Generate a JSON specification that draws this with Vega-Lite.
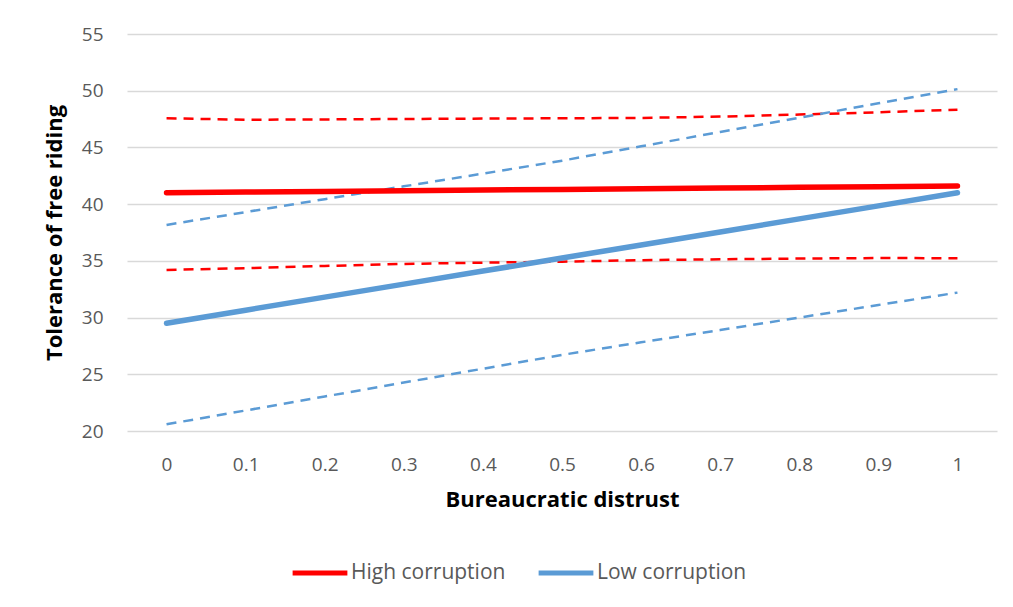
{
  "$schema": "https://vega.github.io/schema/vega-lite/v6.json",
  "autosize": "none",
  "width": 870,
  "height": 397,
  "padding": {"left": 127, "top": 34, "right": 16, "bottom": 176},
  "background": "white",
  "config": {
    "view": {"stroke": null},
    "font": "Open Sans",
    "axis": {"labelFont": "Open Sans", "titleFont": "Open Sans"},
    "legend": {"labelFont": "Open Sans"}
  },
  "data": {
    "values": [
      {"x": "0", "group": "High corruption", "series": "High est", "kind": "estimate", "y": 41.0},
      {"x": "0.1", "group": "High corruption", "series": "High est", "kind": "estimate", "y": 41.06},
      {"x": "0.2", "group": "High corruption", "series": "High est", "kind": "estimate", "y": 41.12},
      {"x": "0.3", "group": "High corruption", "series": "High est", "kind": "estimate", "y": 41.18},
      {"x": "0.4", "group": "High corruption", "series": "High est", "kind": "estimate", "y": 41.24},
      {"x": "0.5", "group": "High corruption", "series": "High est", "kind": "estimate", "y": 41.3},
      {"x": "0.6", "group": "High corruption", "series": "High est", "kind": "estimate", "y": 41.36},
      {"x": "0.7", "group": "High corruption", "series": "High est", "kind": "estimate", "y": 41.42},
      {"x": "0.8", "group": "High corruption", "series": "High est", "kind": "estimate", "y": 41.48},
      {"x": "0.9", "group": "High corruption", "series": "High est", "kind": "estimate", "y": 41.54},
      {"x": "1", "group": "High corruption", "series": "High est", "kind": "estimate", "y": 41.6},

      {"x": "0", "group": "High corruption", "series": "High upper", "kind": "bound", "y": 47.57},
      {"x": "0.1", "group": "High corruption", "series": "High upper", "kind": "bound", "y": 47.44},
      {"x": "0.2", "group": "High corruption", "series": "High upper", "kind": "bound", "y": 47.47},
      {"x": "0.3", "group": "High corruption", "series": "High upper", "kind": "bound", "y": 47.51},
      {"x": "0.4", "group": "High corruption", "series": "High upper", "kind": "bound", "y": 47.54},
      {"x": "0.5", "group": "High corruption", "series": "High upper", "kind": "bound", "y": 47.57},
      {"x": "0.6", "group": "High corruption", "series": "High upper", "kind": "bound", "y": 47.6},
      {"x": "0.7", "group": "High corruption", "series": "High upper", "kind": "bound", "y": 47.72},
      {"x": "0.8", "group": "High corruption", "series": "High upper", "kind": "bound", "y": 47.9},
      {"x": "0.9", "group": "High corruption", "series": "High upper", "kind": "bound", "y": 48.1},
      {"x": "1", "group": "High corruption", "series": "High upper", "kind": "bound", "y": 48.33},

      {"x": "0", "group": "High corruption", "series": "High lower", "kind": "bound", "y": 34.2},
      {"x": "0.1", "group": "High corruption", "series": "High lower", "kind": "bound", "y": 34.35},
      {"x": "0.2", "group": "High corruption", "series": "High lower", "kind": "bound", "y": 34.55},
      {"x": "0.3", "group": "High corruption", "series": "High lower", "kind": "bound", "y": 34.73},
      {"x": "0.4", "group": "High corruption", "series": "High lower", "kind": "bound", "y": 34.84},
      {"x": "0.5", "group": "High corruption", "series": "High lower", "kind": "bound", "y": 34.93},
      {"x": "0.6", "group": "High corruption", "series": "High lower", "kind": "bound", "y": 35.06},
      {"x": "0.7", "group": "High corruption", "series": "High lower", "kind": "bound", "y": 35.14},
      {"x": "0.8", "group": "High corruption", "series": "High lower", "kind": "bound", "y": 35.2},
      {"x": "0.9", "group": "High corruption", "series": "High lower", "kind": "bound", "y": 35.25},
      {"x": "1", "group": "High corruption", "series": "High lower", "kind": "bound", "y": 35.23},

      {"x": "0", "group": "Low corruption", "series": "Low est", "kind": "estimate", "y": 29.5},
      {"x": "0.1", "group": "Low corruption", "series": "Low est", "kind": "estimate", "y": 30.65},
      {"x": "0.2", "group": "Low corruption", "series": "Low est", "kind": "estimate", "y": 31.8},
      {"x": "0.3", "group": "Low corruption", "series": "Low est", "kind": "estimate", "y": 32.95},
      {"x": "0.4", "group": "Low corruption", "series": "Low est", "kind": "estimate", "y": 34.1},
      {"x": "0.5", "group": "Low corruption", "series": "Low est", "kind": "estimate", "y": 35.25},
      {"x": "0.6", "group": "Low corruption", "series": "Low est", "kind": "estimate", "y": 36.4},
      {"x": "0.7", "group": "Low corruption", "series": "Low est", "kind": "estimate", "y": 37.55},
      {"x": "0.8", "group": "Low corruption", "series": "Low est", "kind": "estimate", "y": 38.7},
      {"x": "0.9", "group": "Low corruption", "series": "Low est", "kind": "estimate", "y": 39.85},
      {"x": "1", "group": "Low corruption", "series": "Low est", "kind": "estimate", "y": 41.0},

      {"x": "0", "group": "Low corruption", "series": "Low upper", "kind": "bound", "y": 38.17},
      {"x": "0.1", "group": "Low corruption", "series": "Low upper", "kind": "bound", "y": 39.3},
      {"x": "0.2", "group": "Low corruption", "series": "Low upper", "kind": "bound", "y": 40.44},
      {"x": "0.3", "group": "Low corruption", "series": "Low upper", "kind": "bound", "y": 41.57},
      {"x": "0.4", "group": "Low corruption", "series": "Low upper", "kind": "bound", "y": 42.69},
      {"x": "0.5", "group": "Low corruption", "series": "Low upper", "kind": "bound", "y": 43.83},
      {"x": "0.6", "group": "Low corruption", "series": "Low upper", "kind": "bound", "y": 45.1},
      {"x": "0.7", "group": "Low corruption", "series": "Low upper", "kind": "bound", "y": 46.36},
      {"x": "0.8", "group": "Low corruption", "series": "Low upper", "kind": "bound", "y": 47.62},
      {"x": "0.9", "group": "Low corruption", "series": "Low upper", "kind": "bound", "y": 48.89},
      {"x": "1", "group": "Low corruption", "series": "Low upper", "kind": "bound", "y": 50.14},

      {"x": "0", "group": "Low corruption", "series": "Low lower", "kind": "bound", "y": 20.59},
      {"x": "0.1", "group": "Low corruption", "series": "Low lower", "kind": "bound", "y": 21.81},
      {"x": "0.2", "group": "Low corruption", "series": "Low lower", "kind": "bound", "y": 23.04},
      {"x": "0.3", "group": "Low corruption", "series": "Low lower", "kind": "bound", "y": 24.27},
      {"x": "0.4", "group": "Low corruption", "series": "Low lower", "kind": "bound", "y": 25.49},
      {"x": "0.5", "group": "Low corruption", "series": "Low lower", "kind": "bound", "y": 26.71},
      {"x": "0.6", "group": "Low corruption", "series": "Low lower", "kind": "bound", "y": 27.82},
      {"x": "0.7", "group": "Low corruption", "series": "Low lower", "kind": "bound", "y": 28.9},
      {"x": "0.8", "group": "Low corruption", "series": "Low lower", "kind": "bound", "y": 30.0},
      {"x": "0.9", "group": "Low corruption", "series": "Low lower", "kind": "bound", "y": 31.11},
      {"x": "1", "group": "Low corruption", "series": "Low lower", "kind": "bound", "y": 32.2}
    ]
  },
  "encoding": {
    "x": {
      "field": "x",
      "type": "ordinal",
      "sort": null,
      "scale": {"type": "point", "padding": 0.5},
      "axis": {
        "title": "Bureaucratic distrust",
        "labelAngle": 0,
        "ticks": false,
        "domain": false,
        "grid": false,
        "labelFontSize": 19,
        "labelColor": "#595959",
        "labelPadding": 24,
        "titleFontSize": 22,
        "titleFontWeight": "bold",
        "titleColor": "#000000",
        "titlePadding": 15
      }
    },
    "y": {
      "field": "y",
      "type": "quantitative",
      "scale": {"domain": [20, 55], "nice": false, "zero": false},
      "axis": {
        "title": "Tolerance of free riding",
        "values": [20, 25, 30, 35, 40, 45, 50, 55],
        "ticks": false,
        "domain": false,
        "gridColor": "#D9D9D9",
        "gridWidth": 1.3,
        "labelFontSize": 19,
        "labelColor": "#595959",
        "labelPadding": 24,
        "titleFontSize": 22,
        "titleFontWeight": "bold",
        "titleColor": "#000000",
        "titlePadding": 15
      }
    }
  },
  "layer": [
    {
      "transform": [{"filter": "datum.kind === 'bound'"}],
      "mark": {"type": "line", "strokeWidth": 2.5, "strokeDash": [10, 7]},
      "encoding": {
        "detail": {"field": "series", "type": "nominal"},
        "color": {
          "field": "group",
          "type": "nominal",
          "scale": {"domain": ["High corruption", "Low corruption"], "range": ["#FF0000", "#5B9BD5"]}
        }
      }
    },
    {
      "transform": [{"filter": "datum.kind === 'estimate'"}],
      "mark": {"type": "line", "strokeWidth": 5.5, "strokeCap": "round"},
      "encoding": {
        "detail": {"field": "series", "type": "nominal"},
        "color": {
          "field": "group",
          "type": "nominal",
          "scale": {"domain": ["High corruption", "Low corruption"], "range": ["#FF0000", "#5B9BD5"]},
          "legend": {
            "title": null,
            "orient": "none",
            "direction": "horizontal",
            "legendX": 163,
            "legendY": 509,
            "symbolType": "stroke",
            "symbolSize": 3000,
            "symbolStrokeWidth": 5,
            "symbolDash": [],
            "labelFontSize": 21,
            "labelColor": "#595959",
            "labelOffset": 1,
            "columnPadding": 22
          }
        }
      }
    }
  ]
}
